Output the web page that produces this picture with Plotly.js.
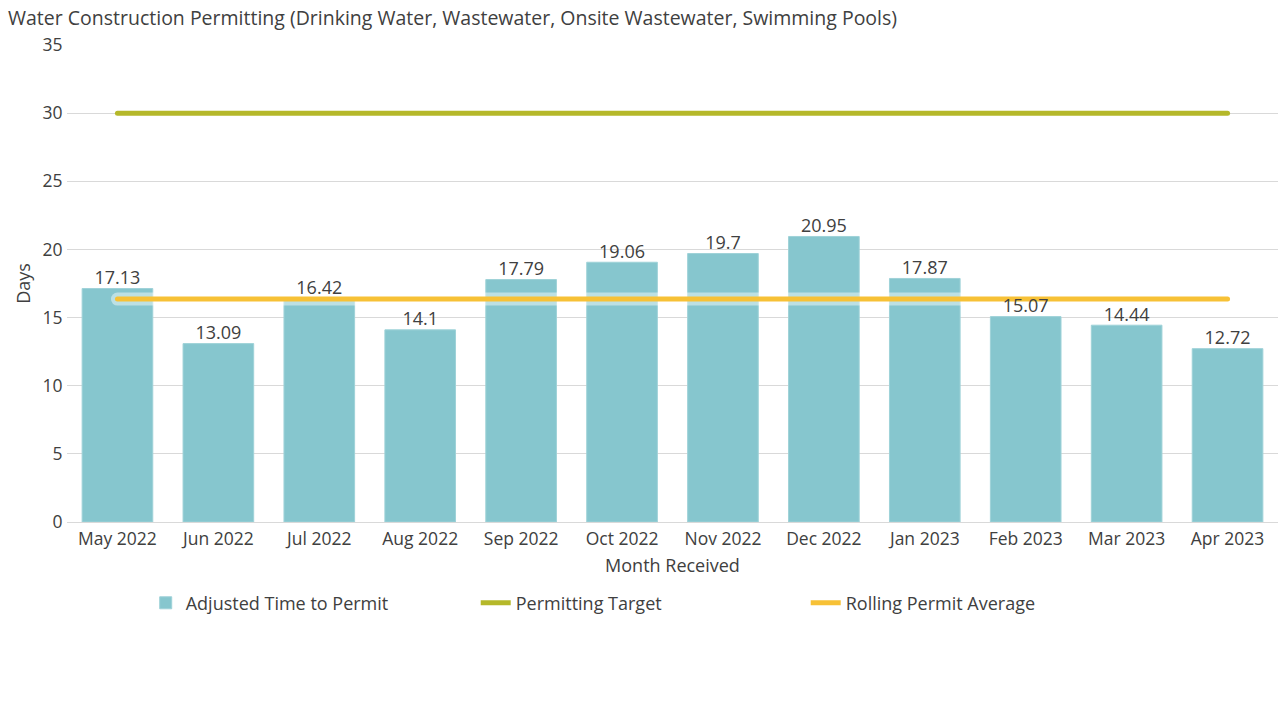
<!DOCTYPE html>
<html>
<head>
<meta charset="utf-8">
<script src="https://cdn.plot.ly/plotly-3.0.1.min.js"></script>
<style>
  html, body { margin: 0; padding: 0; background: #fff; }
  #chart { width: 1285px; height: 701px; }
</style>
</head>
<body>
<div id="chart"></div>
<script>
const months = ["May 2022", "Jun 2022", "Jul 2022", "Aug 2022", "Sep 2022", "Oct 2022",
  "Nov 2022", "Dec 2022", "Jan 2023", "Feb 2023", "Mar 2023", "Apr 2023"];
const adjustedTime = [17.13, 13.09, 16.42, 14.1, 17.79, 19.06, 19.7, 20.95, 17.87, 15.07, 14.44, 12.72];
const permittingTarget = [30, 30, 30, 30, 30, 30, 30, 30, 30, 30, 30, 30];
const rollingAverage = [16.36, 16.36, 16.36, 16.36, 16.36, 16.36, 16.36, 16.36, 16.36, 16.36, 16.36, 16.36];

const textColor = "#404040";

const bars = {
  type: "bar",
  name: "Adjusted Time to Permit",
  x: months,
  y: adjustedTime,
  marker: { color: "#86c6ce", line: { color: "#9fd2d8", width: 1 } },
  hoverinfo: "x+y"
};

const target = {
  type: "scatter",
  mode: "lines",
  name: "Permitting Target",
  x: months,
  y: permittingTarget,
  line: { color: "#b5b82a", width: 5 }
};

// light halo under the rolling average line
const rollingHalo = {
  type: "scatter",
  mode: "lines",
  x: months,
  y: rollingAverage,
  showlegend: false,
  hoverinfo: "skip",
  line: { color: "rgba(255,255,255,0.45)", width: 13 }
};

const rolling = {
  type: "scatter",
  mode: "lines",
  name: "Rolling Permit Average",
  x: months,
  y: rollingAverage,
  line: { color: "#f7c136", width: 5 }
};

// value labels drawn last so they sit on top of the lines
const barLabels = {
  type: "scatter",
  mode: "text",
  x: months,
  y: adjustedTime,
  text: adjustedTime.map(String),
  textposition: "top center",
  textfont: { size: 18, color: textColor },
  cliponaxis: false,
  showlegend: false,
  hoverinfo: "skip"
};

const layout = {
  width: 1285,
  height: 701,
  margin: { l: 67, r: 7, t: 45, b: 179 },
  paper_bgcolor: "#fff",
  plot_bgcolor: "#fff",
  font: { family: "'Open Sans', sans-serif", size: 17.5, color: textColor },
  title: {
    text: "Water Construction Permitting (Drinking Water, Wastewater, Onsite Wastewater, Swimming Pools)",
    x: 8 / 1285, xanchor: "left", xref: "container",
    y: 0.974, yanchor: "middle", yref: "container",
    font: { size: 19.5, color: textColor }
  },
  bargap: 0.3,
  xaxis: {
    type: "category",
    range: [-0.5, months.length - 0.5],
    title: { text: "Month Received", font: { size: 18 }, standoff: 10 },
    tickfont: { size: 17.5 },
    showgrid: false,
    showline: false,
    ticks: "outside",
    ticklen: 1,
    tickcolor: "#fff"
  },
  yaxis: {
    title: { text: "Days", font: { size: 18 }, standoff: 7 },
    range: [0, 35],
    dtick: 5,
    tickfont: { size: 17.5 },
    gridcolor: "#d9d9d9",
    gridwidth: 1,
    zeroline: true,
    zerolinecolor: "#d9d9d9",
    zerolinewidth: 1,
    ticklen: 0,
    ticks: "outside",
    tickcolor: "#fff"
  },
  legend: {
    orientation: "h",
    x: 0.065, xanchor: "left",
    y: -0.17, yanchor: "middle",
    entrywidth: 285,
    font: { size: 18, color: textColor },
    itemwidth: 30
  },
  showlegend: true
};

Plotly.newPlot("chart", [bars, target, rollingHalo, rolling, barLabels], layout, { displayModeBar: false })
  .then(function () {
    document.querySelectorAll("#chart .scatterlayer .js-line").forEach(function (p) {
      p.style.strokeLinecap = "round";
    });
  });
</script>
</body>
</html>
